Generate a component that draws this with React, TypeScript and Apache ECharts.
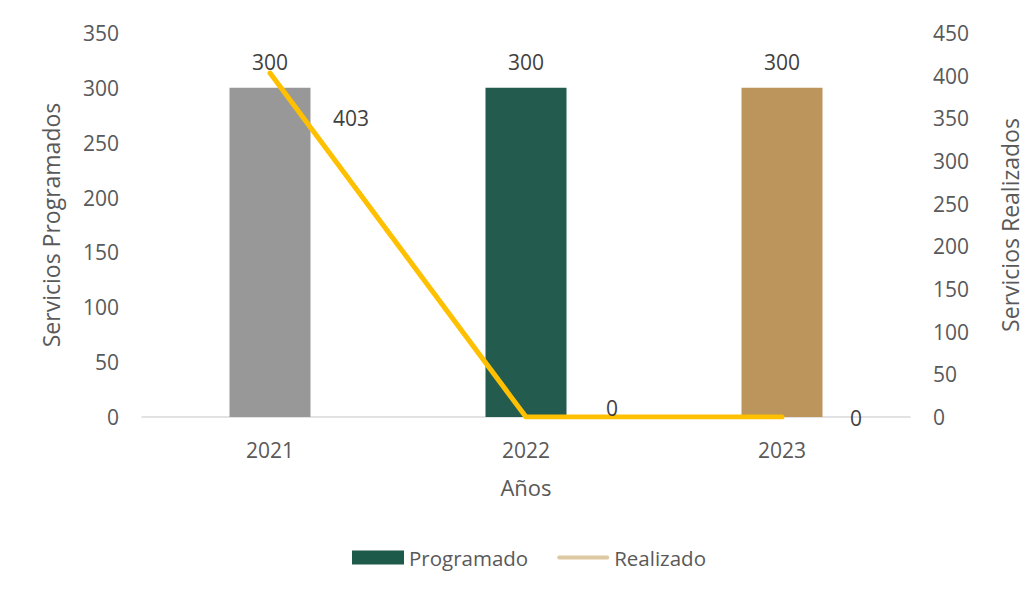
import React, { useEffect, useRef } from "react";
import * as echarts from "echarts";

const years = ["2021", "2022", "2023"];
const programado = [300, 300, 300];
const realizado = [403, 0, 0];
const barColors = ["#989898", "#235B4E", "#BC955C"];
const leftTicks = { min: 0, max: 350, interval: 50 };
const rightTicks = { min: 0, max: 450, interval: 50 };

const FONT = "'Open Sans', 'Noto Sans', sans-serif";
const TXT = "#595959";

export default function App() {
  const ref = useRef<HTMLDivElement>(null);
  useEffect(() => {
    if (!ref.current) return;
    const chart = echarts.init(ref.current, null, { renderer: "svg" });
    const lineLabelOffsets = [
      [81, 45],
      [86, -9],
      [74, 1],
    ];
    chart.setOption({
      animation: false,
      textStyle: { fontFamily: FONT, color: TXT },
      grid: {
        left: 134,
        right: 121,
        top: 25,
        bottom: 169,
        containLabel: false,
        outerBoundsMode: "none",
      },
      legend: {
        bottom: 13,
        left: 339,
        itemGap: 29,
        itemWidth: 52,
        itemHeight: 14,
        textStyle: { fontSize: 20.5, color: TXT, fontFamily: FONT },
        data: [
          { name: "Programado", icon: "rect", itemStyle: { color: "#1E5A49" } },
          {
            name: "Realizado",
            icon: "path://M2,5 L50,5 A2,2 0 0 1 50,9 L2,9 A2,2 0 0 1 2,5 Z",
            itemStyle: { color: "#DDC9A1" },
            lineStyle: { color: "#DDC9A1", width: 4 },
          },
        ],
      },
      xAxis: {
        type: "category",
        data: years,
        name: "Años",
        nameLocation: "middle",
        nameGap: 59,
        nameTextStyle: { fontSize: 22, color: TXT, fontFamily: FONT },
        axisLine: { lineStyle: { color: "#D9D9D9", width: 1.5 } },
        axisTick: { show: false },
        axisLabel: { fontSize: 21, color: TXT, margin: 22, fontFamily: FONT },
      },
      yAxis: [
        {
          type: "value",
          ...leftTicks,
          name: "Servicios Programados",
          nameLocation: "middle",
          nameGap: 80,
          nameTextStyle: { fontSize: 23, color: TXT, fontFamily: FONT },
          axisLine: { show: false },
          axisTick: { show: false },
          splitLine: { show: false },
          axisLabel: { fontSize: 21, color: TXT, margin: 23, fontFamily: FONT },
        },
        {
          type: "value",
          ...rightTicks,
          name: "Servicios Realizados",
          nameLocation: "middle",
          nameGap: 88,
          nameTextStyle: { fontSize: 23, color: TXT, fontFamily: FONT },
          axisLine: { show: false },
          axisTick: { show: false },
          splitLine: { show: false },
          axisLabel: { fontSize: 21, color: TXT, margin: 23, fontFamily: FONT },
        },
      ],
      series: [
        {
          name: "Programado",
          type: "bar",
          yAxisIndex: 0,
          barWidth: 81,
          data: programado.map((v, i) => ({ value: v, itemStyle: { color: barColors[i] } })),
          label: {
            show: true,
            position: "top",
            distance: 15,
            fontSize: 21,
            color: "#404040",
            fontFamily: FONT,
          },
        },
        {
          name: "Realizado",
          type: "line",
          yAxisIndex: 1,
          symbol: "circle",
          symbolSize: 1,
          showSymbol: true,
          lineStyle: { color: "#FFC000", width: 5, cap: "round", join: "round" },
          itemStyle: { color: "rgba(0,0,0,0)" },
          data: realizado.map((v, i) => ({
            value: v,
            label: {
              show: true,
              position: "inside",
              offset: lineLabelOffsets[i],
              fontSize: 21,
              color: "#404040",
              fontFamily: FONT,
            },
          })),
          z: 5,
        },
      ],
    });
    return () => chart.dispose();
  }, []);
  return <div ref={ref} style={{ width: 1023, height: 578 }} />;
}
